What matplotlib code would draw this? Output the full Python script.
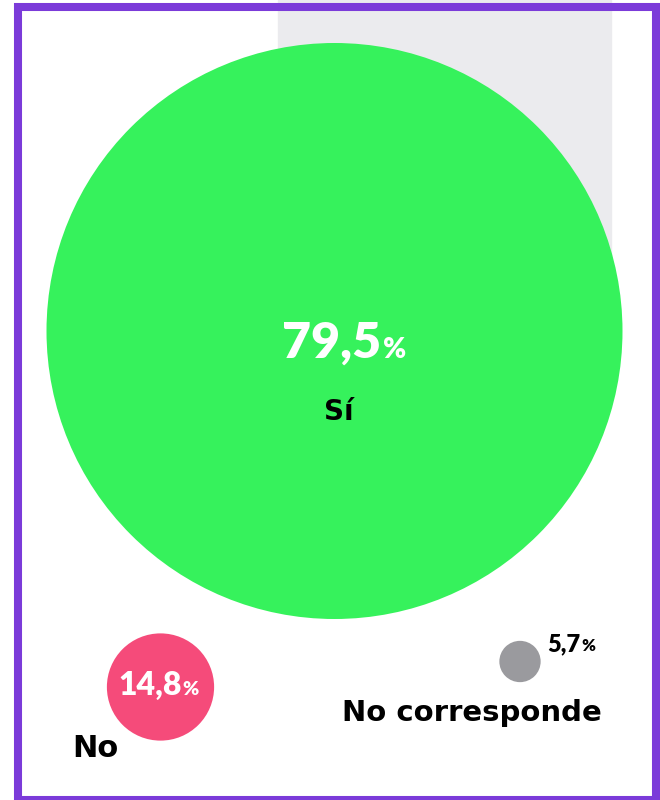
import matplotlib
matplotlib.use("Agg")
import matplotlib.pyplot as plt
from matplotlib.patches import Circle, Rectangle

# data
labels = ["Sí", "No", "No corresponde"]
values = [79.5, 14.8, 5.7]
value_texts = ["79,5", "14,8", "5,7"]

# colours
COLORS = ["#36F25C", "#F54B7A", "#9A9A9E"]
FRAME_COLOR = "#7B3BD9"
BAND_COLOR = "#EBEBEE"

# layout (pixels, y down)
W, H = 660, 800
CENTERS = [(334.5, 331), (160.5, 687), (520, 661.5)]
R_SCALE = 288 / 79.5  # radius is proportional to the value
NUM_FONT = "Lato"          # narrow digits
LABEL_FONT = "DejaVu Sans"  # wide labels


def draw_value(ax, x, y, num, size, pct_size, color):
    # number right-aligned at x, smaller "%" starting at x
    ax.text(x, y, num, ha="right", va="baseline", fontsize=size,
            fontweight="heavy", color=color, family=NUM_FONT)
    ax.text(x + 1, y, "%", ha="left", va="baseline", fontsize=pct_size,
            fontweight="heavy", color=color, family=NUM_FONT)


def draw_label(ax, x, y, text, size, ha="center"):
    ax.text(x, y, text, ha=ha, va="baseline", fontsize=size,
            fontweight="bold", color="black", family=LABEL_FONT)


def main():
    fig = plt.figure(figsize=(W / 100, H / 100), dpi=100)
    ax = fig.add_axes([0, 0, 1, 1])
    ax.set_xlim(0, W)
    ax.set_ylim(H, 0)
    ax.axis("off")

    # light band behind the big bubble
    ax.add_patch(Rectangle((278, 0), 333, 331, color=BAND_COLOR, zorder=0))

    for (cx, cy), v, c in zip(CENTERS, values, COLORS):
        ax.add_patch(Circle((cx, cy), v * R_SCALE, color=c, zorder=1, lw=0))

    # Sí
    cx, cy = CENTERS[0]
    draw_value(ax, cx + 47, 358, value_texts[0], 36, 20, "white")
    draw_label(ax, cx + 4, 420, labels[0], 20)

    # No
    cx, cy = CENTERS[1]
    draw_value(ax, cx + 21, 695, value_texts[1], 23, 14, "white")
    draw_label(ax, 72, 757, labels[1], 22, ha="left")

    # No corresponde
    cx, cy = CENTERS[2]
    draw_value(ax, 580, 651, value_texts[2], 17, 12, "black")
    draw_label(ax, 472, 721, labels[2], 21)

    # frame
    ax.add_patch(Rectangle((18, 7), 638, 793, fill=False, lw=5.8,
                           edgecolor=FRAME_COLOR, zorder=3))

    fig.savefig("out.png", dpi=100)


if __name__ == "__main__":
    main()
